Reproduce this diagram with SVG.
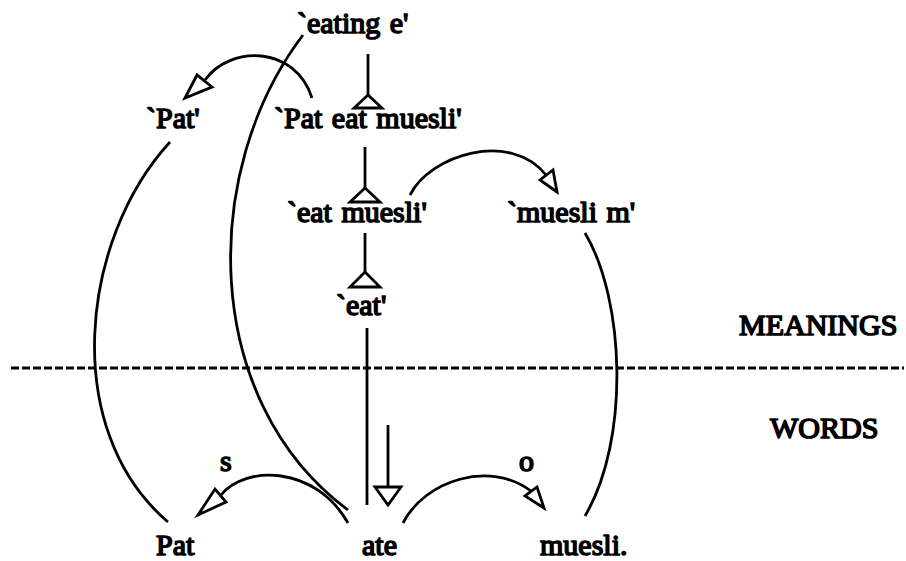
<svg xmlns="http://www.w3.org/2000/svg" width="906" height="561" viewBox="0 0 906 561">
<style>
.t{font-family:'Liberation Serif','Times New Roman',serif;font-weight:400;fill:#000;stroke:#000;stroke-width:1.6;stroke-linejoin:round;font-size:30px}
.m{word-spacing:2px}
.ln{fill:none;stroke:#000;stroke-width:2.8}
.hd{fill:#fff;stroke:#000;stroke-width:2.8;stroke-linejoin:miter}
.dash{stroke:#000;stroke-width:3;stroke-dasharray:8 3}
</style>
<rect width="906" height="561" fill="#fff"/>
<g id="connectors">
<line class="dash" x1="11" y1="368" x2="904" y2="368"/>
<path class="ln" d="M170,142 C80,240 60,430 168,522"/>
<path class="ln" d="M303,35 C200,170 200,400 348,510"/>
<path class="ln" d="M585,233 C625,300 630,440 585,516"/>
<path class="ln" d="M312,98 C295,45 230,45 205,80"/>
<polygon class="hd" points="185,98 197,75 212,87"/>
<path class="ln" d="M410,195 C430,155 510,130 546,175"/>
<polygon class="hd" points="557,192 540,180 553,170"/>
<path class="ln" d="M348,523 C315,465 245,465 221,495"/>
<polygon class="hd" points="198,515 215,489 226,502"/>
<path class="ln" d="M403,523 C425,480 490,460 531,491"/>
<polygon class="hd" points="544,508 525,496 537,487"/>
<line class="ln" x1="368" y1="54" x2="368" y2="95"/>
<polygon class="hd" points="368,95 354,108 382,108"/>
<line class="ln" x1="365" y1="147" x2="365" y2="188"/>
<polygon class="hd" points="365,188 350,202 380,202"/>
<line class="ln" x1="365" y1="233" x2="365" y2="272"/>
<polygon class="hd" points="365,272 350,287 380,287"/>
<line class="ln" x1="367" y1="328" x2="367" y2="505"/>
<line class="ln" x1="388" y1="425" x2="388" y2="487"/>
<polygon class="hd" points="375,487 401,487 388,505"/>
</g>
<g id="n-eating"><text class="t m" x="297" y="33">`eating e'</text></g>
<g id="n-pat-m"><text class="t m" x="146" y="128">`Pat'</text></g>
<g id="n-pat-eat-muesli"><text class="t m" x="274" y="128">`Pat eat muesli'</text></g>
<g id="n-eat-muesli"><text class="t m" x="287" y="222">`eat muesli'</text></g>
<g id="n-muesli-m"><text class="t m" x="507" y="222">`muesli m'</text></g>
<g id="n-eat"><text class="t m" x="336" y="315">`eat'</text></g>
<g id="lbl-meanings"><text class="t" x="739" y="335">MEANINGS</text></g>
<g id="lbl-words"><text class="t" x="770" y="438">WORDS</text></g>
<g id="n-pat"><text class="t" x="156" y="555">Pat</text></g>
<g id="n-ate"><text class="t" x="362" y="555">ate</text></g>
<g id="n-muesli"><text class="t" x="540" y="555">muesli.</text></g>
<g id="lbl-s"><text class="t" x="220" y="471">s</text></g>
<g id="lbl-o"><text class="t" x="519" y="471">o</text></g>
</svg>
